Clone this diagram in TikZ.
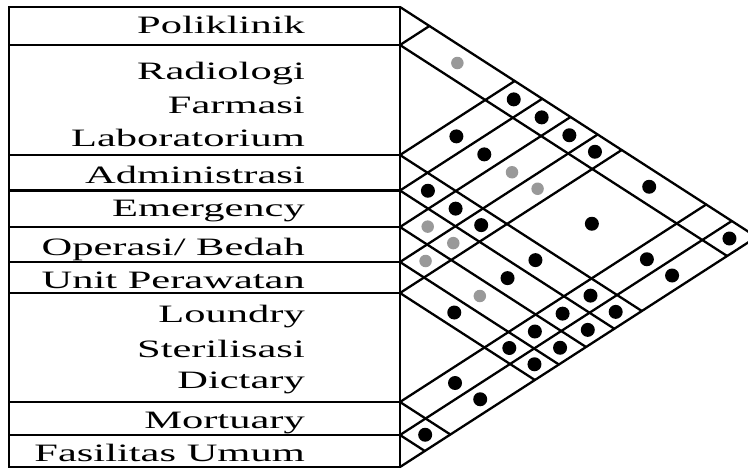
\documentclass[tikz,border=0pt]{standalone}
\usepackage{fontspec}
\newfontfamily\lblfont[FakeStretch=1.7]{Liberation Serif}
\begin{document}
\begin{tikzpicture}[x=1pt,y=-1pt,
  grid/.style={line width=2.3pt,line cap=round,line join=round},
  frame/.style={line width=2.6pt},
  lbl/.style={anchor=base east,inner sep=0pt,font=\lblfont\fontsize{25}{30}\selectfont},
  blackdot/.style={circle,fill=black,minimum size=14pt,inner sep=0pt},
  greydot/.style={circle,fill=black!40,minimum size=12.5pt,inner sep=0pt}]
\useasboundingbox (0,0) rectangle (748,469);
\clip (0,0) rectangle (748,469);
\def\slope{0.645}
% row boundaries (top to bottom)
\def\Ylist{{7,45,155,190.5,227,262,293,402,435,467}}

% table frame and row separators
\draw[frame] (9,7) rectangle (400,467);
\foreach \j in {1,...,8}{
  \pgfmathsetmacro\yy{\Ylist[\j]}
  \draw[frame] (9,\yy) -- (400,\yy);
}

% diagonal grid: from every boundary one line runs down-right, one up-right
\foreach \j in {0,...,9}{
  \pgfmathsetmacro\yy{\Ylist[\j]}
  \pgfmathsetmacro\dx{(467-\yy)/(2*\slope)}
  \pgfmathsetmacro\dy{(467+\yy)/2}
  \pgfmathsetmacro\ux{(\yy-7)/(2*\slope)}
  \pgfmathsetmacro\uy{(\yy+7)/2}
  \coordinate (b\j) at (400,\yy);
  \coordinate (d\j) at (400+\dx,\dy);
  \coordinate (u\j) at (400+\ux,\uy);
  \draw[grid] (b\j) -- (d\j);
  \draw[grid] (b\j) -- (u\j);
}

% labels
\node[lbl] (poli) at (305,33) {Poliklinik};
\node[lbl] (radio) at (305,79) {Radiologi};
\node[lbl] (farm) at (305,113) {Farmasi};
\node[lbl] (lab) at (305,146) {Laboratorium};
\node[lbl] (adm) at (305,183) {Administrasi};
\node[lbl] (emer) at (305,216) {Emergency};
\node[lbl] (ops) at (305,255) {Operasi/ Bedah};
\node[lbl] (unit) at (305,288.5) {Unit Perawatan};
\node[lbl] (loun) at (305,322) {Loundry};
\node[lbl] (ster) at (305,357) {Sterilisasi};
\node[lbl] (diet) at (305,388) {Dictary};
\node[lbl] (mort) at (305,428) {Mortuary};
\node[lbl] (fas) at (305,461) {Fasilitas Umum};

% relationship marks in the cells
\newcommand\cellmark[3]{%
  \pgfmathtruncatemacro\am{#1-1}%
  \pgfmathtruncatemacro\bm{#2-1}%
  \pgfmathsetmacro\yat{\Ylist[\am]}%
  \pgfmathsetmacro\yab{\Ylist[#1]}%
  \pgfmathsetmacro\ybt{\Ylist[\bm]}%
  \pgfmathsetmacro\ybb{\Ylist[#2]}%
  \pgfmathsetmacro\ra{(\yat+\yab)/2}%
  \pgfmathsetmacro\rb{(\ybt+\ybb)/2}%
  \pgfmathsetmacro\cx{400+(\rb-\ra)/(2*\slope)}%
  \pgfmathsetmacro\cy{(\ra+\rb)/2}%
  \node[#3] (c#1#2) at (\cx,\cy) {};%
}
\foreach \a/\b in {1/3,1/4,1/5,1/6,1/7,1/9,2/3,2/4,2/7,2/8,2/9,3/4,3/5,3/6,3/7,3/8,3/9,4/7,4/8,4/9,5/8,5/9,6/7,6/8,6/9,7/8,7/9,8/9}
  {\cellmark{\a}{\b}{blackdot}}
\foreach \a/\b in {1/2,2/5,2/6,4/5,4/6,5/6,5/7}
  {\cellmark{\a}{\b}{greydot}}
\end{tikzpicture}
\end{document}
